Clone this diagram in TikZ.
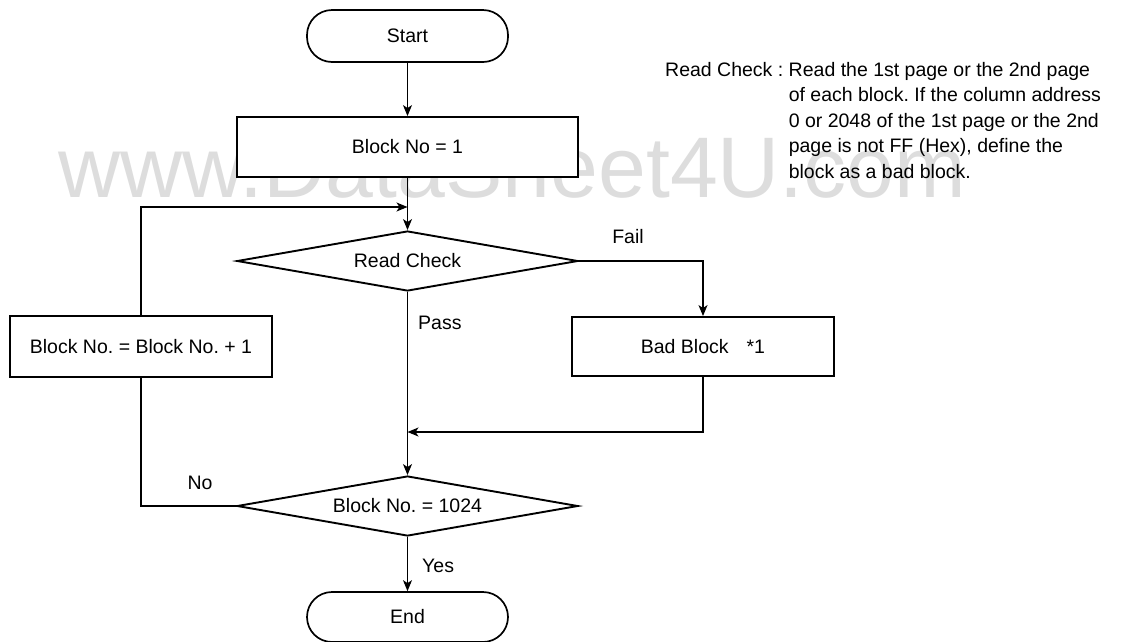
\documentclass[tikz,border=0pt]{standalone}
\usepackage{fontspec}
\setmainfont{Liberation Sans}
\usetikzlibrary{shapes.geometric,arrows.meta}
\definecolor{wm}{RGB}{221,221,221}
\frenchspacing
\begin{document}
\begin{tikzpicture}[x=1pt,y=-1pt,
  txt/.style={font=\fontsize{19.5}{23}\selectfont},
  lbl/.style={txt, inner sep=0pt},
  terminal/.style={txt, draw, line width=1.7pt, fill=white, rounded corners=25pt, minimum width=201pt, inner sep=0pt},
  procbox/.style={txt, draw, line width=1.9pt, fill=white, inner sep=0pt},
  decision/.style={txt, draw, diamond, aspect=5.7, line width=1.9pt, fill=white, minimum width=341pt, minimum height=60pt, inner sep=0pt},
  conn/.style={line width=1.1pt},
  arr/.style={conn, -{Stealth[length=11pt,width=9pt,inset=3pt]}}]
\useasboundingbox (0,0) rectangle (1122,641);
% watermark
\node[anchor=base west, inner sep=0pt, text=wm, font=\fontsize{86}{90}\selectfont] (wmark) at (58,197) {www.DataSheet4U.com};
% nodes
\node[terminal, minimum height=52pt] (start) at (407.5,36) {Start};
\node[procbox, minimum width=341pt, minimum height=60pt] (b1) at (407.5,147) {Block No = 1};
\node[decision] (rc) at (407.5,261) {Read Check};
\node[procbox, minimum width=262pt, minimum height=59pt] (bad) at (703,346.5) {Bad Block\hspace{18pt}*1};
\node[procbox, minimum width=262pt, minimum height=61pt] (inc) at (141,346.5) {Block No. = Block No. + 1};
\node[decision] (d2) at (407.5,506) {Block No. = 1024};
\node[terminal, minimum height=50pt] (end) at (407.5,617) {End};
\coordinate (j1) at (407.5,207);
\coordinate (j2) at (407.5,432);
% connectors
\draw[arr] (start) -- (b1);
\draw[arr] (b1) -- (rc);
\draw[arr] (inc.north) |- (j1);
\draw[arr] (rc.east) -| (bad.north);
\draw[arr] (rc.south) -- (d2.north);
\draw[arr] (bad.south) |- (j2);
\draw[conn] (d2.west) -| (inc.south);
\draw[arr] (d2.south) -- (end.north);
% labels
\node[lbl] (fail) at (628,237) {Fail};
\node[lbl, anchor=west] (pass) at (418,323) {Pass};
\node[lbl] (no) at (200,483) {No};
\node[lbl, anchor=west] (yes) at (422,566) {Yes};
% annotation
\node[anchor=north west, inner sep=0pt, align=left, font=\fontsize{19.5}{25.5}\selectfont] (note) at (665,62)
  {Read Check : Read the 1st page or the 2nd page\\
  \hphantom{Read Check : }of each block. If the column address\\
  \hphantom{Read Check : }0 or 2048 of the 1st page or the 2nd\\
  \hphantom{Read Check : }page is not FF (Hex), define the\\
  \hphantom{Read Check : }block as a bad block.};
\end{tikzpicture}
\end{document}
